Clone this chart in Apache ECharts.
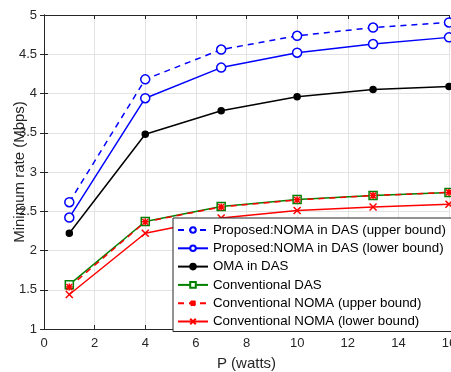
<!DOCTYPE html>
<html>
<head>
<meta charset="utf-8">
<style>
  html, body { margin: 0; padding: 0; background: #fff; }
  #chart { width: 451px; height: 372px; }
</style>
<script src="https://cdn.jsdelivr.net/npm/echarts@6/dist/echarts.min.js"></script>
</head>
<body>
<div id="chart"></div>
<script>
// Transmit power (watts)
const power = [1, 4, 7, 10, 13, 16];

// Minimum rate (Mbps) per scheme
const nomaDasUpper = [2.615, 4.18, 4.56, 4.735, 4.84, 4.905];
const nomaDasLower = [2.42, 3.94, 4.33, 4.52, 4.63, 4.715];
const omaDas       = [2.22, 3.48, 3.78, 3.96, 4.05, 4.09];
const convDas      = [1.565, 2.37, 2.56, 2.65, 2.70, 2.74];
const convNomaUp   = [1.535, 2.365, 2.555, 2.645, 2.70, 2.74];
const convNomaLow  = [1.44, 2.22, 2.415, 2.51, 2.555, 2.59];

const seriesNames = [
  'Proposed:NOMA in DAS (upper bound)',
  'Proposed:NOMA in DAS (lower bound)',
  'OMA in DAS',
  'Conventional DAS',
  'Conventional NOMA (upper bound)',
  'Conventional NOMA (lower bound)'
];

const pairs = ys => power.map((p, i) => [p, ys[i]]);

const crossPath = 'path://M0 0L10 10M10 0L0 10';
const starPath = 'path://M0 0L10 10M10 0L0 10M5 -1L5 11M-1 5L11 5';

function lineSeries(name, ys, color, type, symbol, size, fill) {
  return {
    name: name,
    type: 'line',
    data: pairs(ys),
    symbol: symbol,
    symbolSize: size,
    showAllSymbol: true,
    lineStyle: { color: color, width: 1.5, type: type },
    itemStyle: { color: fill, borderColor: color, borderWidth: 1.5 },
    emphasis: { disabled: true },
    z: 3
  };
}

const axisColor = '#262626';
const gridColor = '#e3e3e3';
const font = 'Liberation Sans, Arial, Helvetica, sans-serif';

const chart = echarts.init(document.getElementById('chart'), null, { renderer: 'canvas' });

chart.setOption({
  animation: false,
  backgroundColor: '#fff',
  grid: { left: 44, right: 2, top: 15, bottom: 43, containLabel: false, outerBoundsMode: 'none' },
  xAxis: [{
    type: 'value', min: 0, max: 16, interval: 2,
    name: 'P (watts)', nameLocation: 'middle', nameGap: 27, nameMoveOverlap: false,
    nameTextStyle: { color: axisColor, fontSize: 15, fontFamily: font },
    axisLine: { show: true, lineStyle: { color: axisColor, width: 1 } },
    axisTick: { show: true, inside: true, length: 4, lineStyle: { color: axisColor } },
    axisLabel: { color: axisColor, fontSize: 13, fontFamily: font, margin: 8, hideOverlap: false },
    splitLine: { show: true, lineStyle: { color: gridColor, width: 1 } }
  }, {
    type: 'value', min: 0, max: 16, interval: 2, position: 'top',
    axisLine: { show: true, lineStyle: { color: axisColor, width: 1 } },
    axisTick: { show: true, inside: true, length: 4, lineStyle: { color: axisColor } },
    axisLabel: { show: false }, splitLine: { show: false }
  }],
  yAxis: [{
    type: 'value', min: 1, max: 5, interval: 0.5,
    name: 'Minimum rate (Mbps)', nameLocation: 'middle', nameGap: 17, nameMoveOverlap: false,
    nameTextStyle: { color: axisColor, fontSize: 15, fontFamily: font },
    axisLine: { show: true, lineStyle: { color: axisColor, width: 1 } },
    axisTick: { show: true, inside: true, length: 4, lineStyle: { color: axisColor } },
    axisLabel: { color: axisColor, fontSize: 13, fontFamily: font, margin: 7 },
    splitLine: { show: true, lineStyle: { color: gridColor, width: 1 } }
  }, {
    type: 'value', min: 1, max: 5, interval: 0.5, position: 'right',
    axisLine: { show: true, lineStyle: { color: axisColor, width: 1 } },
    axisTick: { show: true, inside: true, length: 4, lineStyle: { color: axisColor } },
    axisLabel: { show: false }, splitLine: { show: false }
  }],
  legend: {
    orient: 'vertical',
    left: 173, top: 218,
    padding: [5, 40, 3, 4],
    backgroundColor: '#fff',
    borderColor: axisColor,
    borderWidth: 1,
    itemWidth: 30,
    itemHeight: 7,
    itemGap: 4.3,
    textStyle: { color: '#000', fontSize: 13.3, fontFamily: font, lineHeight: 14 },
    selectedMode: false,
    data: seriesNames,
    z: 10
  },
  series: [
    lineSeries(seriesNames[0], nomaDasUpper, '#0000ff', [6, 5], 'circle', 9, '#fff'),
    lineSeries(seriesNames[1], nomaDasLower, '#0000ff', 'solid', 'circle', 9, '#fff'),
    lineSeries(seriesNames[2], omaDas, '#000000', 'solid', 'circle', 6, '#000'),
    lineSeries(seriesNames[3], convDas, '#008000', 'solid', 'rect', 8, '#fff'),
    lineSeries(seriesNames[4], convNomaUp, '#ff0000', [6, 5], starPath, 7, '#ff0000'),
    lineSeries(seriesNames[5], convNomaLow, '#ff0000', 'solid', crossPath, 7, '#ff0000')
  ]
});
</script>
</body>
</html>
